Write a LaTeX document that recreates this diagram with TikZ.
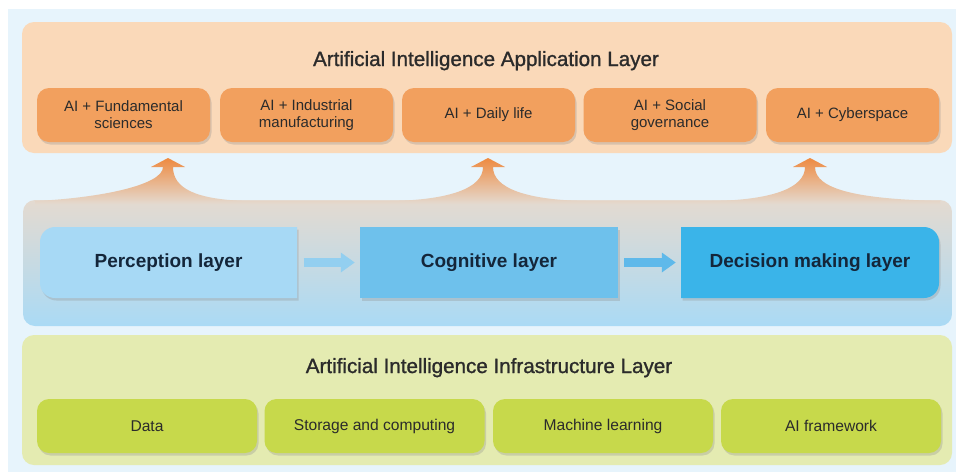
\documentclass[tikz,border=0pt]{standalone}
\usepackage{fontspec}
\setmainfont{Liberation Sans}
\newfontfamily\medfont[FakeBold=1.2]{Liberation Sans}
\usetikzlibrary{shadows,arrows.meta}
\definecolor{bgblue}{HTML}{E7F4FC}
\definecolor{apppanel}{HTML}{FAD9B9}
\definecolor{orangebox}{HTML}{F2A05E}
\definecolor{percfill}{HTML}{A7D9F5}
\definecolor{cogfill}{HTML}{6EC1EC}
\definecolor{decfill}{HTML}{3AB4E9}
\definecolor{midtop}{HTML}{E4DAD0}
\definecolor{midmid}{HTML}{D6EAF7}
\definecolor{midbot}{HTML}{AADAF5}
\definecolor{infrapanel}{HTML}{E4EBB1}
\definecolor{greenbox}{HTML}{C7D94B}
\definecolor{arrowA}{HTML}{93CFF0}
\definecolor{arrowB}{HTML}{5FB9EA}
\definecolor{bumpA}{HTML}{EE8A40}
\definecolor{bumpB}{HTML}{F2B68E}
\definecolor{txtdark}{HTML}{2B2B2B}
\definecolor{txtnavy}{HTML}{14263A}
\begin{document}
\begin{tikzpicture}[x=1pt,y=-1pt,
  softshadow/.style={drop shadow={shadow xshift=1.5pt, shadow yshift=-2.5pt, opacity=0.3, fill=black!45}},
  ttl/.style={font=\medfont\fontsize{20.6}{23}\selectfont, text=txtdark, anchor=base, inner sep=0pt},
  obox/.style={fill=orangebox, rounded corners=12pt, minimum width=173pt, minimum height=54pt,
     inner sep=0pt, align=center, text=txtdark, font=\fontsize{15}{17}\selectfont, softshadow},
  gbox/.style={fill=greenbox, rounded corners=12pt, minimum width=220pt, minimum height=54pt,
     inner sep=0pt, align=center, text=txtdark, font=\fontsize{15.6}{18}\selectfont, softshadow},
  mlabel/.style={minimum width=258pt, minimum height=71pt, inner sep=0pt, text=txtnavy,
     font=\bfseries\fontsize{19}{22}\selectfont},
  flatarrow/.style={line width=9pt, -{Triangle[length=14pt,width=19pt]}, shorten <=6pt, shorten >=5pt}
]
\useasboundingbox (0,0) rectangle (956,472);
\fill[white] (0,0) rectangle (956,472);
\fill[bgblue] (8,9) rectangle (956,472);

% panels
\fill[apppanel, rounded corners=12pt] (22,22) rectangle (952,153);
\shade[top color=midtop, middle color=midmid, bottom color=midbot, rounded corners=12pt] (23,200) rectangle (952,326);
\shade[top color=bumpA, middle color=bumpB, bottom color=midtop]
  (35,204) -- (35,201) .. controls (100,198) and (163,185) .. (163,167)
  -- (151,167) -- (168,158) -- (185,167) -- (173,167)
  .. controls (173,188) and (195,200) .. (250,201) -- (390,201)
  .. controls (450,200) and (483,188) .. (483,167)
  -- (471,167) -- (488,158) -- (505,167) -- (493,167)
  .. controls (493,188) and (526,200) .. (586,201) -- (712,201)
  .. controls (772,200) and (805,188) .. (805,167)
  -- (793,167) -- (810,158) -- (827,167) -- (815,167)
  .. controls (815,190) and (860,199) .. (940,201) -- (940,204) -- cycle;
\fill[infrapanel, rounded corners=12pt] (22,335) rectangle (952,465);

% application layer
\node[ttl] (apptitle) at (486,66) {Artificial Intelligence Application Layer};
\node[obox] (a1) at (123.5,115) {AI + Fundamental\\sciences};
\node[obox] (a2) at (306.5,115) {AI + Industrial\\manufacturing};
\node[obox] (a3) at (488.5,115) {AI + Daily life};
\node[obox] (a4) at (670,115) {AI + Social\\governance};
\node[obox] (a5) at (852.5,115) {AI + Cyberspace};

% middle layer shapes
\path[fill=percfill, softshadow]
  (297,227) -- (55,227) .. controls (46.7,227) and (40,233.7) .. (40,242)
  -- (40,283) .. controls (40,291.3) and (46.7,298) .. (55,298) -- (297,298) -- cycle;
\path[fill=decfill, softshadow]
  (681,227) -- (924,227) .. controls (932.3,227) and (939,233.7) .. (939,242)
  -- (939,283) .. controls (939,291.3) and (932.3,298) .. (924,298) -- (681,298) -- cycle;
\node[mlabel] (perc) at (168.5,262.5) {Perception layer};
\node[mlabel, fill=cogfill, softshadow] (cog) at (489,262.5) {Cognitive layer};
\node[mlabel] (dec) at (810,262.5) {Decision making layer};
\draw[flatarrow, arrowA] (perc.east) -- (cog.west);
\draw[flatarrow, arrowB] (cog.east) -- (dec.west);

% infrastructure layer
\node[ttl] (infratitle) at (489,373) {Artificial Intelligence Infrastructure Layer};
\node[gbox] (g1) at (147,426) {Data};
\node[gbox] (g2) at (374.5,426) {Storage and computing};
\node[gbox] (g3) at (603,426) {Machine learning};
\node[gbox] (g4) at (831,426) {AI framework};
\end{tikzpicture}
\end{document}
